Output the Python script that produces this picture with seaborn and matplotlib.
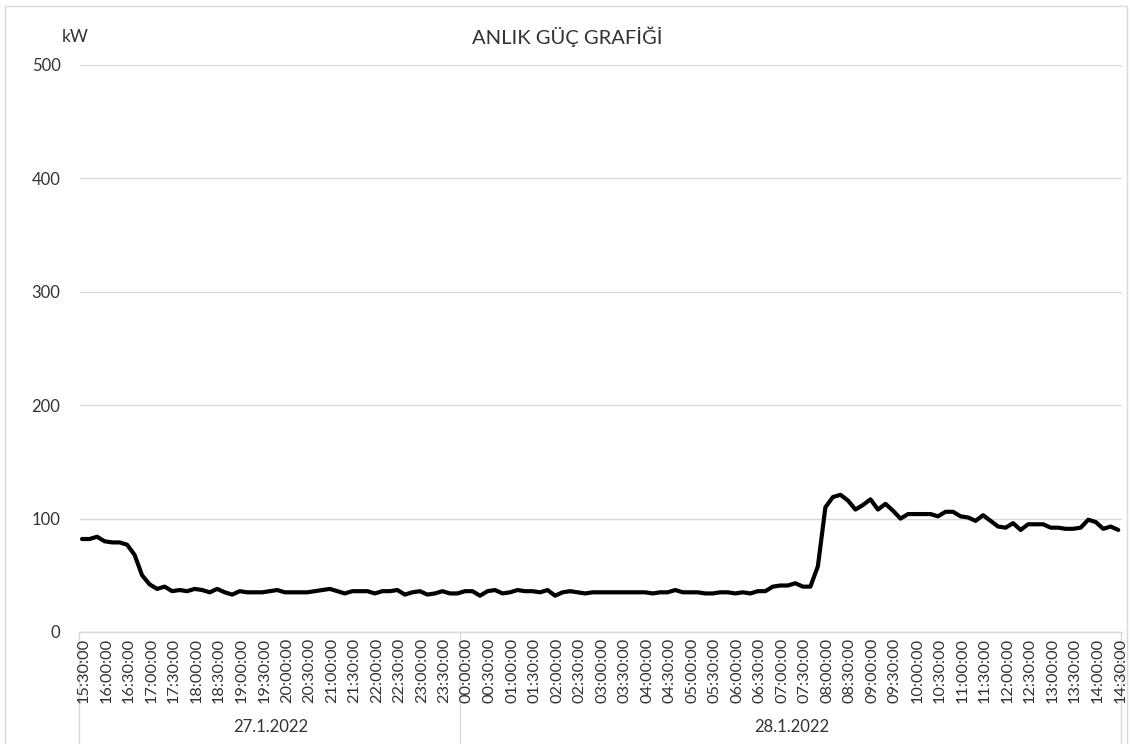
import numpy as np
import pandas as pd
import matplotlib
matplotlib.use("Agg")
import matplotlib.pyplot as plt
import matplotlib.transforms as mtransforms
import seaborn as sns
from matplotlib.patches import Rectangle

# ---------------- data ----------------
start_time = "2022-01-27 15:30:00"
freq = "10min"
power_kw = [
    82, 82, 84,                       # 15:30-15:50
    80, 79, 79, 77, 68, 50,           # 16
    42, 38, 40, 36, 37, 36,           # 17
    38, 37, 35, 38, 35, 33,           # 18
    36, 35, 35, 35, 36, 37,           # 19
    35, 35, 35, 35, 36, 37,           # 20
    38, 36, 34, 36, 36, 36,           # 21
    34, 36, 36, 37, 33, 35,           # 22
    36, 33, 34, 36, 34, 34,           # 23
    36, 36, 32, 36, 37, 34,           # 00
    35, 37, 36, 36, 35, 37,           # 01
    32, 35, 36, 35, 34, 35,           # 02
    35, 35, 35, 35, 35, 35,           # 03
    35, 34, 35, 35, 37, 35,           # 04
    35, 35, 34, 34, 35, 35,           # 05
    34, 35, 34, 36, 36, 40,           # 06
    41, 41, 43, 40, 40, 58,           # 07
    110, 119, 121, 116, 108, 112,     # 08
    117, 108, 113, 107, 100, 104,     # 09
    104, 104, 104, 102, 106, 106,     # 10
    102, 101, 98, 103, 98, 93,        # 11
    92, 96, 90, 95, 95, 95,           # 12
    92, 92, 91, 91, 92, 99,           # 13
    97, 91, 93, 90,                   # 14:00-14:30
]
date_labels = ["27.1.2022", "28.1.2022"]
title = "ANLIK GÜÇ GRAFİĞİ"
unit = "kW"
yticks = [0, 100, 200, 300, 400, 500]

times = pd.date_range(start_time, periods=len(power_kw), freq=freq)
df = pd.DataFrame({"idx": np.arange(len(power_kw)), "kW": power_kw, "time": times})

# ---------------- plot ----------------
sns.set_theme(style="white")
plt.rcParams["font.family"] = ["Lato", "DejaVu Sans"]
txt = "#333333"
grid = "#d9d9d9"

W, H = 1132, 744
fig = plt.figure(figsize=(W / 100, H / 100), dpi=100)
ax = fig.add_axes([80 / W, 1 - 632 / H, 1042 / W, 567 / H])

sns.lineplot(data=df, x="idx", y="kW", color="black", lw=3.0, ax=ax)

n = len(df)
ax.set_xlim(-0.27, n - 1 + 0.5)
ax.set_ylim(0, 500)
ax.set_yticks(yticks)
ax.yaxis.grid(True, color=grid, lw=1)
ax.xaxis.grid(False)
ax.set_axisbelow(True)
for s in ["top", "right", "left"]:
    ax.spines[s].set_visible(False)
ax.spines["bottom"].set_color(grid)
ax.spines["bottom"].set_linewidth(1)

tick_idx = df["idx"].values[::3]
ax.set_xticks(tick_idx)
ax.set_xticklabels(df["time"].dt.strftime("%H:%M:%S").values[::3], rotation=90)
ax.tick_params(axis="x", length=0, pad=4, labelsize=11.8, colors=txt)
ax.tick_params(axis="y", length=0, pad=14, labelsize=12, colors=txt)
offset = mtransforms.ScaledTranslation(2 / 100, 0, fig.dpi_scale_trans)
for lab in ax.get_xticklabels():
    lab.set_transform(lab.get_transform() + offset)
ax.set_xlabel("")
ax.set_ylabel("")

# date groups
trans = ax.get_xaxis_transform()
day = df["time"].dt.normalize()
change = list(np.where(day.values[1:] != day.values[:-1])[0] + 0.5)
bounds = [ax.get_xlim()[0]] + change + [ax.get_xlim()[1]]
ybot = -(H - 632) / 567 - 0.02
for b in bounds:
    ax.plot([b - 0.15, b - 0.15], [0, ybot], color=grid, lw=1, transform=trans,
            clip_on=False, zorder=0)
for i, lab in enumerate(date_labels):
    cx = (bounds[i] + bounds[i + 1]) / 2
    ax.text(cx, -(727 - 632) / 567, lab, transform=trans, ha="center", va="center",
            fontsize=12, color=txt)

fig.text(567 / W, 1 - 37 / H, title, ha="center", va="center", fontsize=14.5, color=txt)
fig.text(75 / W, 1 - 37 / H, unit, ha="center", va="center", fontsize=12.5, color=txt)

fig.patches.append(Rectangle((5 / W, -0.01), (1127 - 5) / W, 1 - 6 / H + 0.01,
                             transform=fig.transFigure, fill=False, ec=grid, lw=1))

fig.savefig("out.png", dpi=100)
